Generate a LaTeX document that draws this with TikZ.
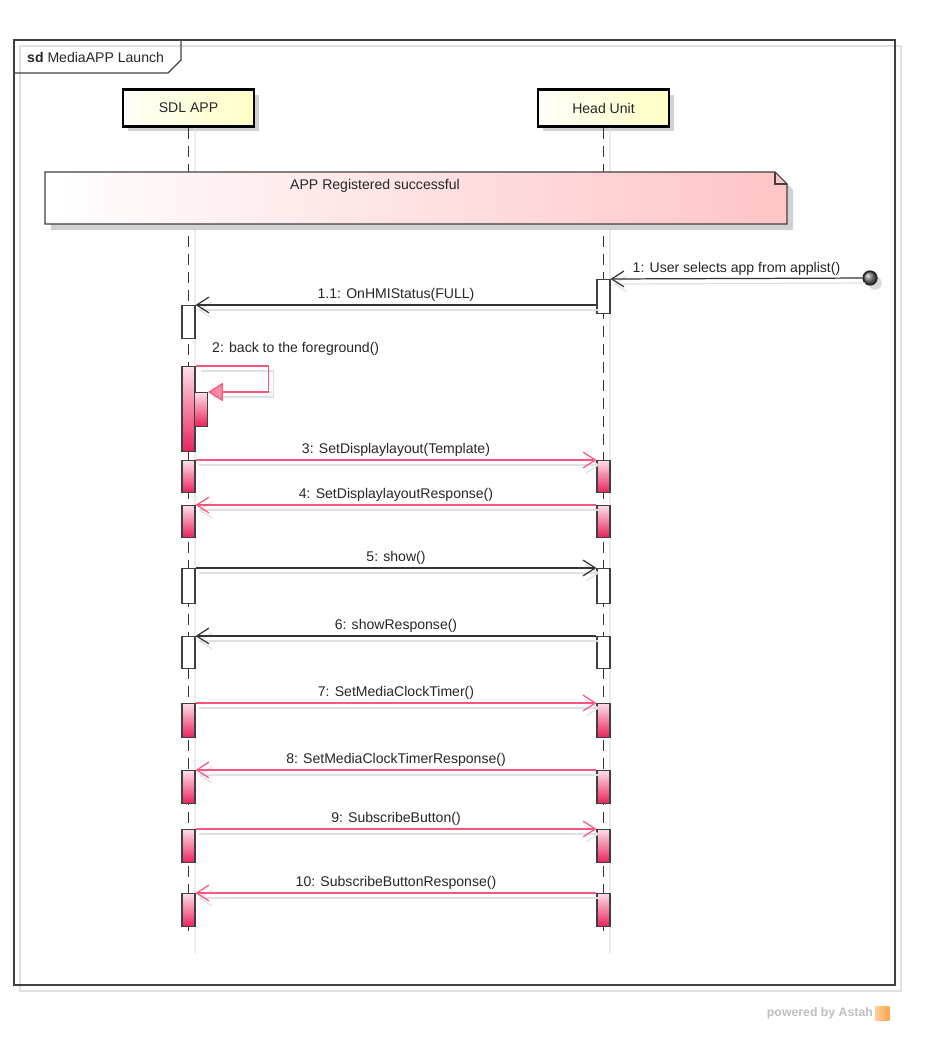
\documentclass[tikz,border=0pt]{standalone}
\usepackage{fontspec}
\setmainfont{Liberation Sans}
\usetikzlibrary{arrows.meta,positioning,shadows}

\definecolor{pinkline}{RGB}{250,85,125}
\definecolor{pinktop}{RGB}{255,222,232}
\definecolor{pinkbot}{RGB}{232,35,90}
\definecolor{notepink}{RGB}{255,196,198}
\definecolor{boxyellow}{RGB}{255,255,196}

\begin{document}
\begin{tikzpicture}[x=0.02cm, y=-0.02cm, font=\fontsize{8}{10}\selectfont]
		\tikzset{
			frame/.style={draw=black!75, line width=0.75pt},
			lifebox/.style={draw=black, line width=1.5pt, minimum width=2.62cm, minimum height=0.74cm, left color=yellow!2, right color=boxyellow, text=black!85,
				drop shadow={shadow xshift=0.1cm, shadow yshift=-0.1cm, fill=black!18, opacity=1}},
			life/.style={draw=black!80, line width=1pt, dash pattern=on 0.22cm off 0.14cm},
			lifesh/.style={draw=black!12, line width=0.8pt},
			act/.style={draw=black!75, line width=0.6pt, fill=white, minimum width=0.26cm, inner sep=0pt, anchor=north},
			pact/.style={act, top color=pinktop, bottom color=pinkbot},
			msg/.style={draw=black!80, line width=0.7pt, -{Straight Barb[length=7pt,width=9pt]}},
			pmsg/.style={msg, draw=pinkline},
			msgsh/.style={draw=black!12, line width=0.7pt, -{Straight Barb[length=7pt,width=9pt]}, transform canvas={xshift=0.06cm, yshift=-0.1cm}},
			lbl/.style={above, inner sep=1.5pt, text=black!85}
		}
		\useasboundingbox (0,0) rectangle (924,1044);

		% Frame with its tab
		\draw[black!12, line width=0.8pt] (20,46) rectangle (901,991);
		\draw[frame] (14,40) rectangle (895,985);
		\draw[frame] (14,73) -- (168,73) -- (181,60) -- (181,40);
		\node[anchor=west, text=black!85] (title) at (21,57) {\textbf{sd} MediaAPP Launch};

		% Lifelines
		\node[lifebox] (sdl) at (188.5,108) {SDL APP};
		\node[lifebox] (hu) at (603.5,108) {Head Unit};
		\coordinate (sdlend) at (188.5,937);
		\coordinate (huend) at (603.5,937);
		\coordinate (sdlsh) at (195,953);
		\coordinate (hush) at (610,953);
		\draw[lifesh] ([xshift=0.13cm]sdl.south) -- (sdlsh);
		\draw[lifesh] ([xshift=0.13cm]hu.south) -- (hush);
		\draw[life] (sdl.south) -- (sdlend);
		\draw[life] (hu.south) -- (huend);

		% Note
		\fill[black!18] (51,178) -- (781,178) -- (793,190) -- (793,230) -- (51,230) -- cycle;
		\draw[frame, line width=0.6pt, left color=white, right color=notepink] (45,172) -- (775,172) -- (787,184) -- (787,224) -- (45,224) -- cycle;
		\draw[black!75, line width=0.6pt] (775,172) |- (787,184);
		\node[text=black!85] (notetxt) at (375,186) {APP Registered successful};

		% Activations
		\node[act, minimum height=0.68cm] (h1) at (603.5,279) {};
		\node[act, minimum height=0.66cm] (s1) at (188.5,305) {};
		\node[pact, minimum height=1.7cm] (s2) at (188.5,366) {};
		\node[pact, minimum height=0.68cm] (s2b) at (201,392) {};
		\node[pact, minimum height=0.64cm] (s3) at (188.5,460) {};
		\node[pact, minimum height=0.64cm] (h3) at (603.5,460) {};
		\node[pact, minimum height=0.64cm] (s4) at (188.5,505) {};
		\node[pact, minimum height=0.64cm] (h4) at (603.5,505) {};
		\node[act, minimum height=0.7cm] (s5) at (188.5,568) {};
		\node[act, minimum height=0.7cm] (h5) at (603.5,568) {};
		\node[act, minimum height=0.64cm] (s6) at (188.5,636) {};
		\node[act, minimum height=0.64cm] (h6) at (603.5,636) {};
		\node[pact, minimum height=0.68cm] (s7) at (188.5,703) {};
		\node[pact, minimum height=0.68cm] (h7) at (603.5,703) {};
		\node[pact, minimum height=0.66cm] (s8) at (188.5,770) {};
		\node[pact, minimum height=0.66cm] (h8) at (603.5,770) {};
		\node[pact, minimum height=0.66cm] (s9) at (188.5,829) {};
		\node[pact, minimum height=0.66cm] (h9) at (603.5,829) {};
		\node[pact, minimum height=0.66cm] (s10) at (188.5,893) {};
		\node[pact, minimum height=0.66cm] (h10) at (603.5,893) {};

		% Found message
		\node[circle, draw=black!85, line width=1pt, shading=ball, ball color=black!50, minimum size=0.27cm, inner sep=0pt,
			drop shadow={shadow xshift=0.1cm, shadow yshift=-0.1cm, fill=black!15, opacity=1}] (found) at (870,278) {};
		\draw[msgsh] (found) -- (h1.north east);
		\draw[msg] (found) -- node[lbl] {1: User selects app from applist()} (h1.north east);

		\draw[msgsh] (h1.west |- s1.north) -- (s1.north east);
		\draw[msg] (h1.west |- s1.north) -- node[lbl] {1.1: OnHMIStatus(FULL)} (s1.north east);

		% Self message
		\draw[black!12, line width=0.7pt, transform canvas={xshift=0.1cm, yshift=-0.1cm}] (s2.north east) -- ++(73,0) |- (s2b.north east);
		\draw[pinkline, line width=0.7pt, -{Triangle[length=8.5pt,width=10.5pt,fill=pinkline!70]}] (s2.north east) -- ++(73,0) |- (s2b.north east);
		\node[anchor=west, text=black!85] (selflbl) at (206,349) {2: back to the foreground()};

		% Calls and responses
		\draw[msgsh] (s3.north east) -- (h3.north west);
		\draw[pmsg] (s3.north east) -- node[lbl] {3: SetDisplaylayout(Template)} (h3.north west);
		\draw[msgsh] (h4.north west) -- (s4.north east);
		\draw[pmsg] (h4.north west) -- node[lbl] {4: SetDisplaylayoutResponse()} (s4.north east);
		\draw[msgsh] (s5.north east) -- (h5.north west);
		\draw[msg] (s5.north east) -- node[lbl] {5: show()} (h5.north west);
		\draw[msgsh] (h6.north west) -- (s6.north east);
		\draw[msg] (h6.north west) -- node[lbl] {6: showResponse()} (s6.north east);
		\draw[msgsh] (s7.north east) -- (h7.north west);
		\draw[pmsg] (s7.north east) -- node[lbl] {7: SetMediaClockTimer()} (h7.north west);
		\draw[msgsh] (h8.north west) -- (s8.north east);
		\draw[pmsg] (h8.north west) -- node[lbl] {8: SetMediaClockTimerResponse()} (s8.north east);
		\draw[msgsh] (s9.north east) -- (h9.north west);
		\draw[pmsg] (s9.north east) -- node[lbl] {9: SubscribeButton()} (h9.north west);
		\draw[msgsh] (h10.north west) -- (s10.north east);
		\draw[pmsg] (h10.north west) -- node[lbl] {10: SubscribeButtonResponse()} (s10.north east);

		% Footer
		\node[anchor=east, font=\fontsize{7}{8}\selectfont\bfseries, text=black!25, inner sep=1pt] (astah) at (875,1013) {powered by Astah};
		\node[right=0pt of astah, left color=orange!40, right color=orange!70, minimum size=0.28cm, inner sep=0pt] (logo) {};
	\end{tikzpicture}
\end{document}
